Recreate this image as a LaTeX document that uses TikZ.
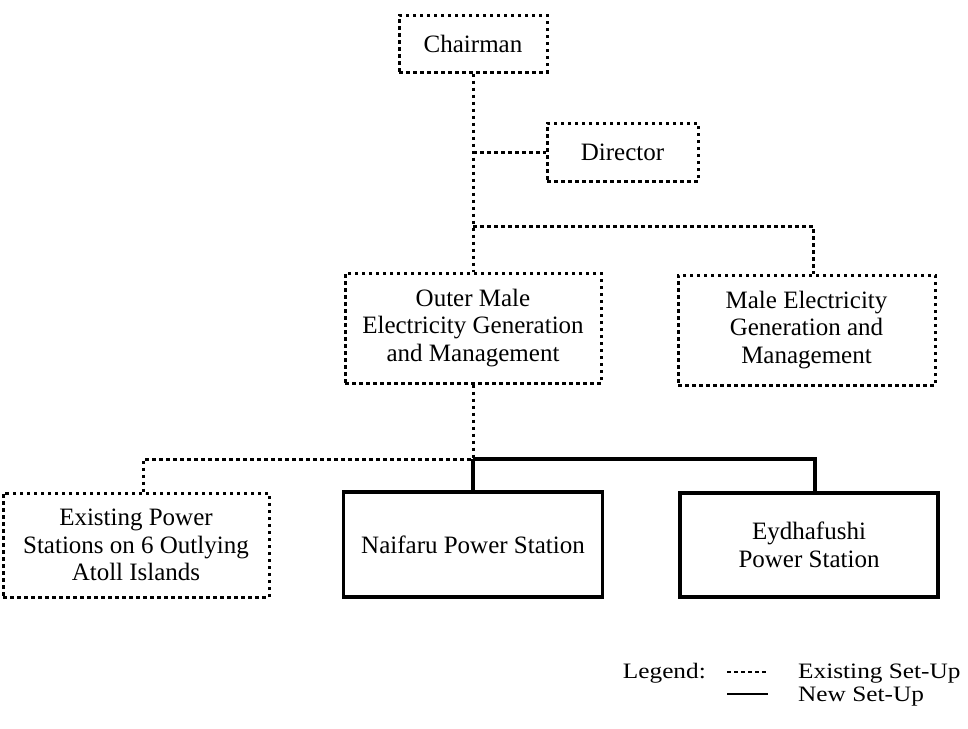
\documentclass[tikz,border=0pt]{standalone}
\usepackage{fontspec}
\setmainfont{Liberation Serif}
\begin{document}
\begin{tikzpicture}[x=1pt,y=-1pt,
  every node/.style={font=\fontsize{25}{27.7}\selectfont, align=center, inner sep=0pt},
  legtext/.style={font=\fontsize{22}{22}\selectfont, text height=13pt, text depth=2pt},
  exist/.style={line width=3pt, dash pattern=on 3.5pt off 3.5pt, line cap=butt},
  newset/.style={line width=3.5pt, line cap=butt},
  oldbox/.style={draw, exist},
  newbox/.style={draw, newset}]
\useasboundingbox (0,0) rectangle (968,728);
% boxes
\node[oldbox, minimum width=148pt, minimum height=57pt] (chair) at (473,43.5) {Chairman};
\node[oldbox, minimum width=151pt, minimum height=58pt] (dir) at (622.5,152) {Director};
\node[oldbox, minimum width=256pt, minimum height=110pt] (outer) at (473,328) {Outer Male\\Electricity Generation\\and Management};
\node[oldbox, minimum width=257pt, minimum height=110pt] (male) at (806.5,330) {Male Electricity\\Generation and\\Management};
\node[oldbox, minimum width=266pt, minimum height=104pt] (exist) at (136,545) {Existing Power\\Stations on 6 Outlying\\Atoll Islands};
\node[newbox, minimum width=259pt, minimum height=105pt] (naif) at (473,544.5) {Naifaru Power Station};
\node[newbox, minimum width=258pt, minimum height=104pt] (eyd) at (809,545) {Eydhafushi\\Power Station};
% junctions
\coordinate (jd) at (473,152);
\coordinate (jb) at (473,226);
\coordinate (mb) at (813,226);
\coordinate (jl) at (473,459);
\coordinate (el) at (143,459);
\coordinate (er) at (815,459);
% connectors
\draw[exist] (chair.south) -- (outer.north);
\draw[exist] (jd) -- (dir.west);
\draw[exist] (jb) -- (mb) -- (mb |- male.north);
\draw[exist] (outer.south) -- (jl) -- (el) -- (el |- exist.north);
\draw[newset] (jl) -- (naif.north);
\draw[newset] (jl) -- (er) -- (er |- eyd.north);
% legend
\node[legtext, anchor=base east] (leg) at (706,678) {\scalebox{1.15}[1]{Legend:}};
\coordinate (l1a) at (727,672);
\coordinate (l1b) at (768,672);
\coordinate (l2a) at (727,694);
\coordinate (l2b) at (768,694);
\draw[exist, line width=2.5pt] (l1a) -- (l1b);
\draw[newset, line width=2.5pt] (l2a) -- (l2b);
\node[legtext, anchor=base west] (lex) at (798,678) {\scalebox{1.15}[1]{Existing Set-Up}};
\node[legtext, anchor=base west] (lnew) at (798,701) {\scalebox{1.15}[1]{New Set-Up}};
\end{tikzpicture}
\end{document}
